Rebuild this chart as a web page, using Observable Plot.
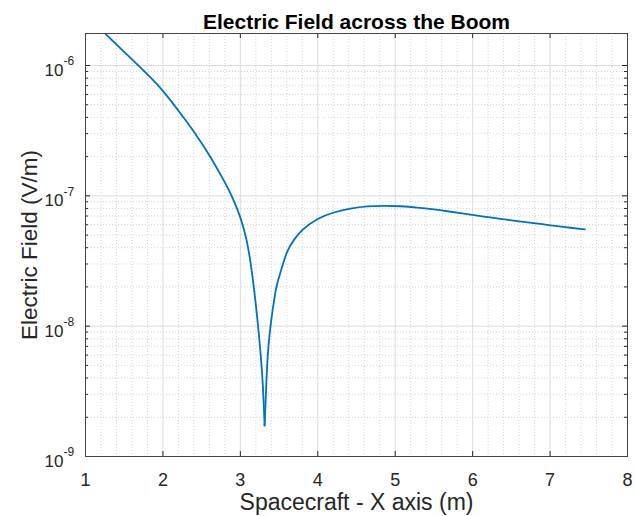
<!DOCTYPE html>
<html>
<head>
<meta charset="utf-8">
<script src="https://cdn.jsdelivr.net/npm/d3@7"></script>
<script src="https://cdn.jsdelivr.net/npm/@observablehq/plot@0.6"></script>
<style>
  html, body { margin: 0; padding: 0; background: #ffffff; }
</style>
</head>
<body>
<div id="chart"></div>
<script>
// ---- data ----
const titleText = "Electric Field across the Boom";
const xLabelText = "Spacecraft - X axis (m)";
const yLabelText = "Electric Field (V/m)";

const xPositions = [1.258, 1.616, 1.861, 2.034, 2.249, 2.421, 2.615, 2.809, 2.895, 3.003, 3.085, 3.13, 3.175, 3.24, 3.283, 3.304, 3.313,
  3.325, 3.347, 3.39, 3.455, 3.476, 3.54, 3.605, 3.69, 3.778, 3.993, 4.21, 4.42, 4.64, 4.854, 5.07, 5.285, 5.50, 5.716, 5.93, 6.145, 6.36, 6.576, 6.79, 7.006, 7.22, 7.45];
const fieldValues = [1.75e-6, 1.091e-6, 7.91e-7, 6.07e-7, 4.12e-7, 3.0e-7, 2.0e-7, 1.245e-7, 9.84e-8, 6.92e-8, 4.58e-8, 3.16e-8, 2.01e-8, 8.85e-9, 4.37e-9, 2.43e-9, 1.73e-9,
  2.43e-9, 5.86e-9, 1.05e-8, 1.90e-8, 2.14e-8, 2.86e-8, 3.85e-8, 4.58e-8, 5.40e-8, 6.75e-8, 7.50e-8, 8.0e-8, 8.34e-8, 8.39e-8, 8.34e-8, 8.15e-8, 7.87e-8, 7.55e-8, 7.24e-8, 6.92e-8, 6.67e-8, 6.40e-8, 6.18e-8, 5.93e-8, 5.73e-8, 5.53e-8];

const xTicks = [1, 2, 3, 4, 5, 6, 7, 8];
const xTickLabels = ["1", "2", "3", "4", "5", "6", "7", "8"];
const yTicks = [1e-9, 1e-8, 1e-7, 1e-6];
const yTickBase = ["10", "10", "10", "10"];
const yTickExponents = ["-9", "-8", "-7", "-6"];
const xDomain = [1, 8];
const yDomain = [1e-9, 1.76e-6];

// ---- derived tables ----
// split into the two branches on either side of the minimum (shared point)
const iMin = d3.minIndex(fieldValues);
const series = [];
xPositions.forEach((x, i) => {
  if (i <= iMin) series.push({x, e: fieldValues[i], branch: "left"});
  if (i >= iMin) series.push({x, e: fieldValues[i], branch: "right"});
});
const xMinor = d3.range(xDomain[0], xDomain[1] + 1e-9, 0.2).filter(v => Math.abs(v - Math.round(v)) > 1e-6);
const yMinor = yTicks.slice(0, 3).flatMap(d => d3.range(2, 10).map(m => m * d)).filter(v => v <= yDomain[1]);
const xTickTable = xTicks.map((v, i) => ({v, label: xTickLabels[i]}));
const yTickTable = yTicks.map((v, i) => ({v, base: yTickBase[i], exp: yTickExponents[i]}));

const W = 635, H = 516;
const mL = 85, mR = 8, mT = 33, mB = 60;
const fw = W - mL - mR, fh = H - mT - mB;
const axisColor = "#262626";
const font = "Liberation Sans, Arial, Helvetica, sans-serif";

const chart = Plot.plot({
  width: W,
  height: H,
  marginLeft: mL,
  marginRight: mR,
  marginTop: mT,
  marginBottom: mB,
  style: {fontFamily: font, background: "#ffffff", color: axisColor, overflow: "visible"},
  x: {type: "linear", domain: xDomain, axis: null},
  y: {type: "log", domain: yDomain, axis: null},
  marks: [
    // minor grid (dotted)
    Plot.ruleX(xMinor, {x: d => d, stroke: "#c8c8c8", strokeWidth: 0.8, strokeDasharray: "1,2"}),
    Plot.ruleY(yMinor, {y: d => d, stroke: "#c8c8c8", strokeWidth: 0.8, strokeDasharray: "1,2"}),
    // major grid (solid)
    Plot.ruleX(xTicks, {x: d => d, stroke: "#dcdcdc", strokeWidth: 1}),
    Plot.ruleY(yTicks, {y: d => d, stroke: "#dcdcdc", strokeWidth: 1}),
    // data line
    Plot.line(series, {x: "x", y: "e", z: "branch", stroke: "#0072BD", strokeWidth: 1.8, curve: "basis", clip: true}),
    // inward ticks
    Plot.tickX(xTicks, {x: d => d, insetTop: fh - 5, stroke: axisColor, strokeWidth: 1}),
    Plot.tickX(xTicks, {x: d => d, insetBottom: fh - 5, stroke: axisColor, strokeWidth: 1}),
    Plot.tickY(yTicks, {y: d => d, insetRight: fw - 5, stroke: axisColor, strokeWidth: 1}),
    Plot.tickY(yTicks, {y: d => d, insetLeft: fw - 5, stroke: axisColor, strokeWidth: 1}),
    Plot.tickY(yMinor, {y: d => d, insetRight: fw - 3, stroke: axisColor, strokeWidth: 1}),
    Plot.tickY(yMinor, {y: d => d, insetLeft: fw - 3, stroke: axisColor, strokeWidth: 1}),
    // frame
    Plot.frame({stroke: "#444444", strokeWidth: 1}),
    // x tick labels
    Plot.text(xTickTable, {x: "v", text: "label", frameAnchor: "bottom", lineAnchor: "middle", dy: 24, fontSize: 18, fill: axisColor}),
    // y tick labels: base and superscript exponent
    Plot.text(yTickTable, {y: "v", text: "base", frameAnchor: "left", textAnchor: "end", lineAnchor: "middle", dx: -22, dy: 5, fontSize: 17, fill: axisColor}),
    Plot.text(yTickTable, {y: "v", text: "exp", frameAnchor: "left", textAnchor: "start", lineAnchor: "middle", dx: -22, dy: -4, fontSize: 12, fill: axisColor}),
    // axis labels
    Plot.text([xLabelText], {text: d => d, frameAnchor: "bottom", textAnchor: "middle", lineAnchor: "middle", dy: 46, fontSize: 23, fill: axisColor}),
    Plot.text([yLabelText], {text: d => d, frameAnchor: "left", textAnchor: "middle", lineAnchor: "middle", dx: -56, rotate: -90, fontSize: 22.5, fill: axisColor}),
    // title
    Plot.text([titleText], {text: d => d, frameAnchor: "top", textAnchor: "middle", lineAnchor: "middle", dy: -11, fontSize: 21, fontWeight: "bold", fill: "#000000"})
  ]
});

document.getElementById("chart").appendChild(chart);
</script>
</body>
</html>
